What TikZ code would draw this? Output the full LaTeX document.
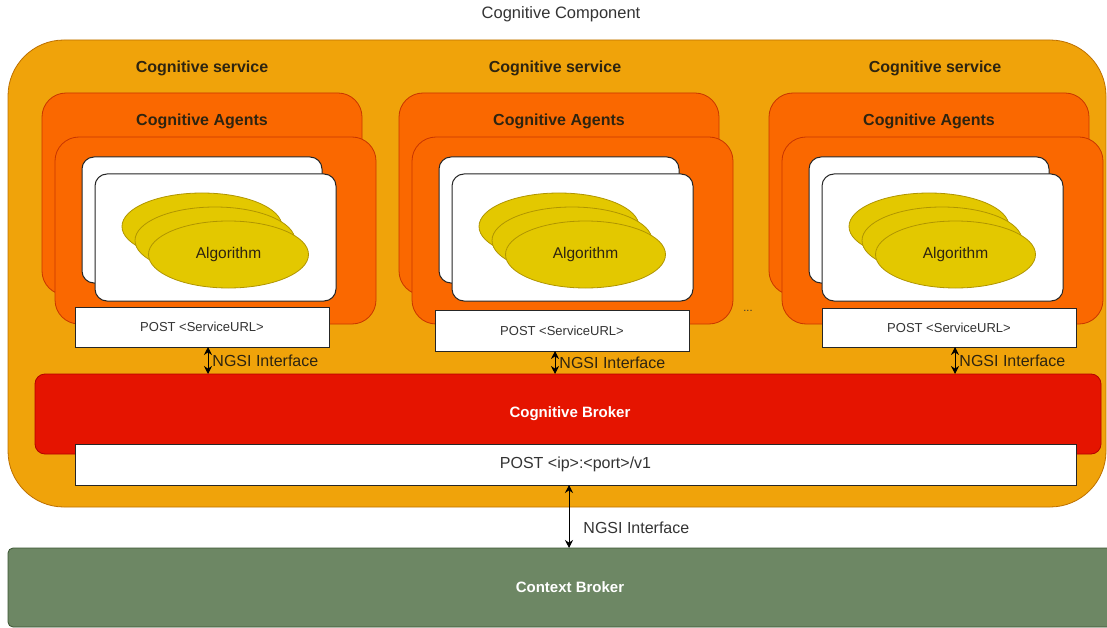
\documentclass[tikz,border=0pt]{standalone}
\usepackage{fontspec}
\setmainfont{Liberation Sans}
\usetikzlibrary{arrows.meta,shapes.geometric}

\definecolor{compfill}{HTML}{F0A30A}
\definecolor{compline}{HTML}{BD7000}
\definecolor{agentfill}{HTML}{FA6800}
\definecolor{agentline}{HTML}{C73500}
\definecolor{brokerfill}{HTML}{E51400}
\definecolor{brokerline}{HTML}{B20000}
\definecolor{algofill}{HTML}{E3C800}
\definecolor{algoline}{HTML}{B09500}
\definecolor{ctxfill}{HTML}{6D8764}
\definecolor{ctxline}{HTML}{3A5431}
\definecolor{darktext}{HTML}{2E2410}
\definecolor{graytext}{HTML}{333333}

\begin{document}
\begin{tikzpicture}[x=1pt,y=-1pt,
  box/.style={rectangle,inner sep=0pt,outer sep=0pt,line width=0.8pt},
  agentbox/.style={box,fill=agentfill,draw=agentline,rounded corners=24pt},
  whitebox/.style={box,fill=white,draw=black!85,line width=1pt,rounded corners=12pt},
  algo/.style={ellipse,inner sep=0pt,fill=algofill,draw=algoline,line width=0.8pt,
    minimum width=160pt,minimum height=67pt},
  postbox/.style={box,fill=white,draw=black!85,line width=1pt,
    minimum width=254pt,minimum height=40pt,
    font=\fontsize{13}{15}\selectfont,text=graytext},
  lbl/.style={inner sep=0pt,text=darktext,font=\fontsize{16}{19}\selectfont\bfseries},
  plain/.style={inner sep=0pt,font=\fontsize{16}{19}\selectfont},
  biarrow/.style={line width=0.9pt,
    {Stealth[length=8pt,width=8pt]}-{Stealth[length=8pt,width=8pt]}}
]
\useasboundingbox (0,0) rectangle (1107,628);

% title
\node[inner sep=0pt,font=\fontsize{16.5}{19}\selectfont,text=graytext] (title) at (561,14) {Cognitive Component};

% cognitive component container
\node[box,fill=compfill,draw=compline,rounded corners=56pt,
  minimum width=1098pt,minimum height=467pt] (comp) at (557,273.5) {};

% three cognitive services
\foreach \i/\dx/\sx in {1/0/202, 2/357/555, 3/727/935} {
  \node[lbl] (svc\i) at (\sx,68) {Cognitive service};
  \node[agentbox,minimum width=320pt,minimum height=202pt] (agb\i) at (202+\dx,194) {};
  \node[agentbox,minimum width=321pt,minimum height=187pt] (agf\i) at (215.5+\dx,230.5) {};
  \node[lbl] (agl\i) at (202+\dx,121) {Cognitive Agents};
  \node[whitebox,minimum width=240pt,minimum height=126pt] (whb\i) at (202+\dx,220) {};
  \node[whitebox,minimum width=241pt,minimum height=127pt] (whf\i) at (215.5+\dx,237.5) {};
  \node[algo] (ala\i) at (202+\dx,226.5) {};
  \node[algo] (alb\i) at (215+\dx,240.5) {};
  \node[algo,font=\fontsize{15.5}{18}\selectfont,text=darktext] (alc\i) at (228.5+\dx,254.5) {Algorithm};
}

% service endpoints
\node[postbox] (post1) at (202,327) {POST <ServiceURL>};
\node[postbox,minimum height=41pt] (post2) at (562,330.5) {POST <ServiceURL>};
\node[postbox,minimum height=39pt] (post3) at (949,327.5) {POST <ServiceURL>};

\node[inner sep=0pt,font=\fontsize{11}{13}\selectfont,text=graytext] (dots) at (748,311) {...};

% cognitive broker and its endpoint
\node[box,fill=brokerfill,draw=brokerline,rounded corners=10pt,
  minimum width=1066pt,minimum height=80pt] (broker) at (568,414) {};
\node[inner sep=0pt,text=white,font=\fontsize{15}{18}\selectfont\bfseries] (brokerlbl) at (570,414) {Cognitive Broker};
\node[box,fill=white,draw=black!85,line width=1pt,minimum width=1001pt,minimum height=41pt,
  font=\fontsize{16}{19}\selectfont,text=graytext] (postv1) at (575.5,464.5) {POST <ip>:<port>/v1};

% context broker
\node[box,fill=ctxfill,draw=ctxline,rounded corners=5pt,minimum width=1124pt,minimum height=79pt,
  text=white,font=\fontsize{15}{18}\selectfont\bfseries] (ctx) at (570,587.5) {Context Broker};

% NGSI links from each service to the cognitive broker
\coordinate (nx1) at (208,0);
\coordinate (nx2) at (555,0);
\coordinate (nx3) at (955,0);
\foreach \i in {1,2,3} {
  \draw[biarrow] (post\i.south -| nx\i) -- (broker.north -| nx\i)
    node[midway,right=4pt,plain,text=darktext] {NGSI Interface};
}

% NGSI link from the cognitive broker to the context broker
\coordinate (nxm) at (569,0);
\draw[biarrow] (postv1.south -| nxm) -- (ctx.north -| nxm)
  node[pos=0.68,right=14pt,plain,text=graytext] {NGSI Interface};
\end{tikzpicture}
\end{document}
